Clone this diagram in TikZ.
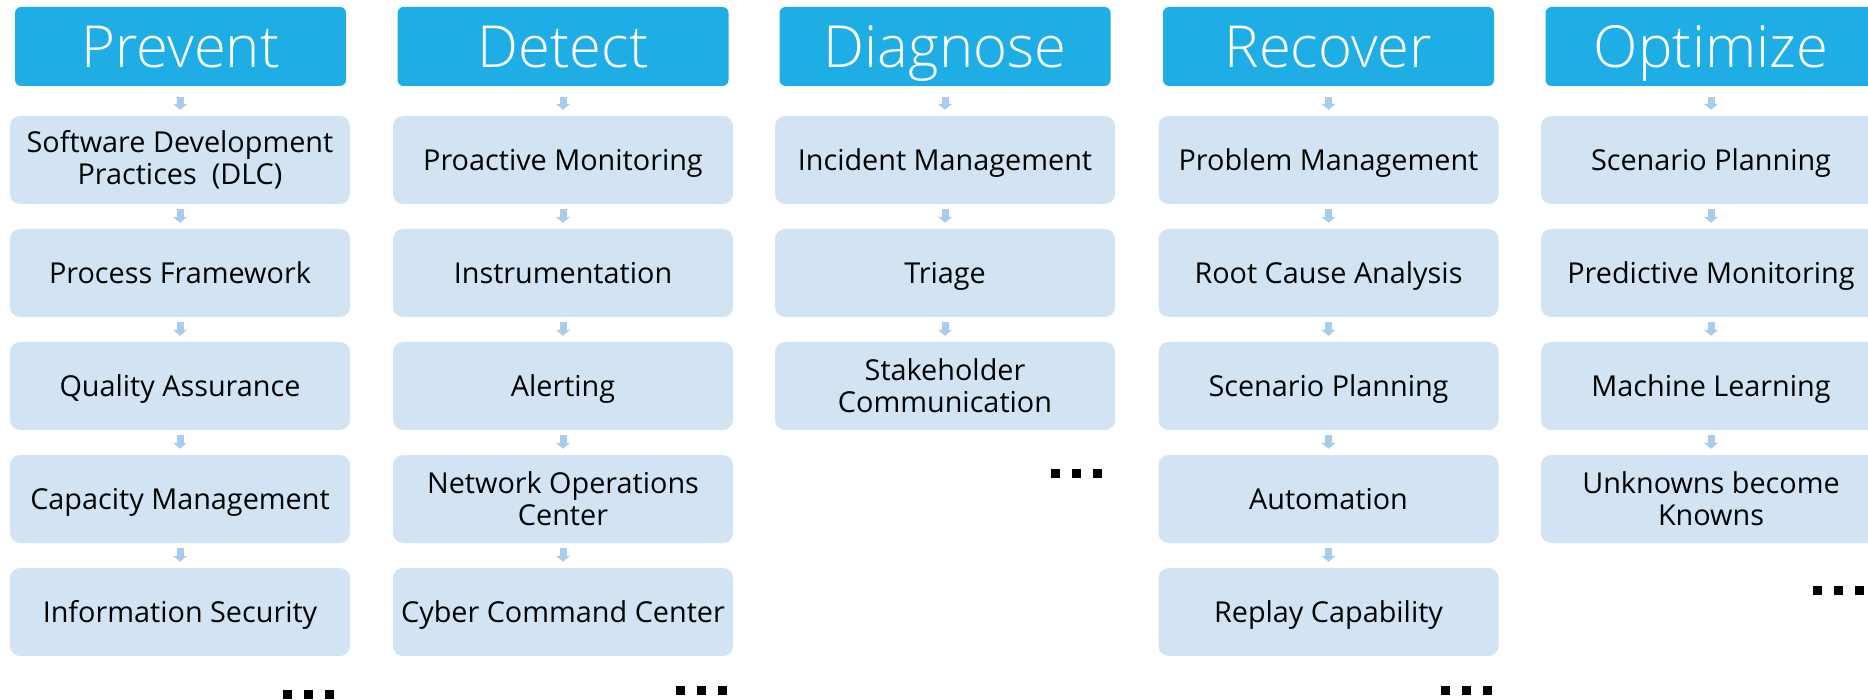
\documentclass[tikz,border=0pt]{standalone}
\usepackage{fontspec}
\setmainfont{Open Sans}
\newfontfamily\headfont{Open Sans Light}
\usetikzlibrary{arrows.meta}
\definecolor{headblue}{HTML}{1EADE4}
\definecolor{boxblue}{HTML}{D2E4F4}
\definecolor{arrowblue}{HTML}{A8CDEC}
\tikzset{
  head/.style={fill=headblue, rounded corners=6pt, minimum width=331pt, minimum height=79pt,
    text=white, font=\headfont\fontsize{58}{60}\selectfont, inner sep=0pt,
    text height=52pt, text depth=10.6pt},
  item/.style={fill=boxblue, rounded corners=10pt, minimum width=340pt, minimum height=88pt,
    text=black, font=\fontsize{28.8}{32}\selectfont, align=center, inner sep=0pt},
  one/.style={item, text height=26pt, text depth=5.4pt},
  flow/.style={draw=arrowblue, line width=7pt, -{Triangle[width=14pt,length=6pt]}},
  hflow/.style={flow, shorten <=11pt, shorten >=6pt},
  iflow/.style={flow, shorten <=5pt, shorten >=6pt},
  more/.style={inner sep=0pt, text=black}
}
\newcommand{\sqdots}{\rule{9pt}{9pt}\hspace{12pt}\rule{9pt}{9pt}\hspace{12pt}\rule{9pt}{9pt}}
\begin{document}
\begin{tikzpicture}[x=1pt, y=-1pt]
\useasboundingbox (0,0) rectangle (1868,700);

% column centres: 180, 563, 945, 1328, 1711
% Prevent
\node[head] (h1) at (180.5,46.5) {Prevent};
\node[item] (a1) at (180,160) {Software Development\\Practices\ \ (DLC)};
\node[one] (a2) at (180,273) {Process Framework};
\node[one] (a3) at (180,386) {Quality Assurance};
\node[one] (a4) at (180,499) {Capacity Management};
\node[one] (a5) at (180,612) {Information Security};
\node[more] (d1) at (308,694) {\sqdots};
\draw[hflow] (h1) -- (a1);
\draw[iflow] (a1) -- (a2);
\draw[iflow] (a2) -- (a3);
\draw[iflow] (a3) -- (a4);
\draw[iflow] (a4) -- (a5);

% Detect
\node[head] (h2) at (563,46.5) {Detect};
\node[one] (b1) at (563,160) {Proactive Monitoring};
\node[one] (b2) at (563,273) {Instrumentation};
\node[one] (b3) at (563,386) {Alerting};
\node[item] (b4) at (563,499) {Network Operations\\Center};
\node[one] (b5) at (563,612) {Cyber Command Center};
\node[more] (d2) at (701.5,690) {\sqdots};
\draw[hflow] (h2) -- (b1);
\draw[iflow] (b1) -- (b2);
\draw[iflow] (b2) -- (b3);
\draw[iflow] (b3) -- (b4);
\draw[iflow] (b4) -- (b5);

% Diagnose
\node[head] (h3) at (945,46.5) {Diagnose};
\node[one] (c1) at (945,160) {Incident Management};
\node[one] (c2) at (945,273) {Triage};
\node[item] (c3) at (945,386) {Stakeholder\\Communication};
\node[more] (d3) at (1076.5,473) {\sqdots};
\draw[hflow] (h3) -- (c1);
\draw[iflow] (c1) -- (c2);
\draw[iflow] (c2) -- (c3);

% Recover
\node[head] (h4) at (1328.5,46.5) {Recover};
\node[one] (e1) at (1328.5,160) {Problem Management};
\node[one] (e2) at (1328.5,273) {Root Cause Analysis};
\node[one] (e3) at (1328.5,386) {Scenario Planning};
\node[one] (e4) at (1328.5,499) {Automation};
\node[one] (e5) at (1328.5,612) {Replay Capability};
\node[more] (d4) at (1466.5,690) {\sqdots};
\draw[hflow] (h4) -- (e1);
\draw[iflow] (e1) -- (e2);
\draw[iflow] (e2) -- (e3);
\draw[iflow] (e3) -- (e4);
\draw[iflow] (e4) -- (e5);

% Optimize
\node[head] (h5) at (1711,46.5) {Optimize};
\node[one] (f1) at (1711,160) {Scenario Planning};
\node[one] (f2) at (1711,273) {Predictive Monitoring};
\node[one] (f3) at (1711,386) {Machine Learning};
\node[item] (f4) at (1711,499) {Unknowns become\\Knowns};
\node[more] (d5) at (1838,590) {\sqdots};
\draw[hflow] (h5) -- (f1);
\draw[iflow] (f1) -- (f2);
\draw[iflow] (f2) -- (f3);
\draw[iflow] (f3) -- (f4);
\end{tikzpicture}
\end{document}
